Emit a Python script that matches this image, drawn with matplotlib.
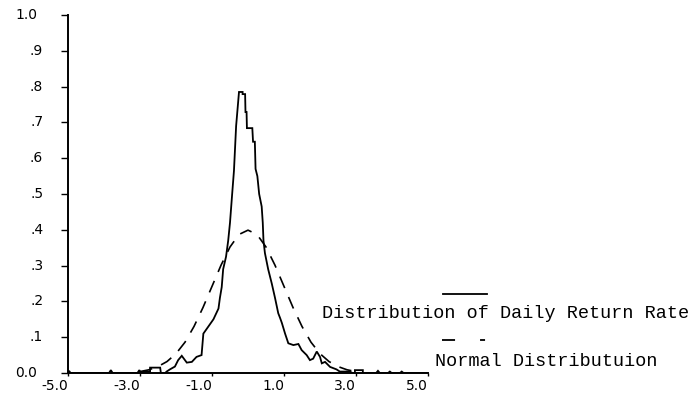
import matplotlib
matplotlib.use("Agg")
import matplotlib.pyplot as plt
from matplotlib.lines import Line2D

plt.rcParams['lines.scale_dashes'] = False

# daily return rate distribution
ret_x = [-5.00, -4.97, -4.93, -3.86, -3.81, -3.76, -3.07, -3.02, -2.97, -2.90,
         -2.72, -2.72, -2.44, -2.42, -2.30, -2.26, -2.17, -2.03, -1.94, -1.84,
         -1.70, -1.56, -1.43, -1.29, -1.24, -1.10, -0.96, -0.82, -0.78, -0.73,
         -0.69, -0.61, -0.55, -0.50, -0.44, -0.39, -0.33, -0.25, -0.15, -0.15,
         -0.08, -0.07, -0.04, -0.03, 0.12, 0.14, 0.19, 0.21, 0.26, 0.31,
         0.38, 0.41, 0.43, 0.47, 0.56, 0.66, 0.75, 0.84, 0.89, 0.94,
         1.03, 1.12, 1.26, 1.40, 1.49, 1.63, 1.72, 1.81, 1.91, 2.00,
         2.05, 2.14, 2.28, 2.46, 2.55, 2.83, 2.90, 2.97, 2.97, 3.19,
         3.19, 3.56, 3.61, 3.66, 3.89, 3.94, 3.99, 4.22, 4.27, 4.32, 5.00]
ret_y = [0.000, 0.006, 0.000, 0.000, 0.008, 0.000, 0.000, 0.008, 0.000, 0.004,
         0.004, 0.015, 0.015, 0.000, 0.000, 0.004, 0.010, 0.018, 0.036, 0.048,
         0.029, 0.031, 0.045, 0.050, 0.110, 0.130, 0.150, 0.180, 0.210, 0.240,
         0.290, 0.325, 0.370, 0.420, 0.500, 0.565, 0.690, 0.785, 0.785, 0.779,
         0.779, 0.729, 0.729, 0.684, 0.684, 0.646, 0.646, 0.570, 0.550, 0.500,
         0.465, 0.420, 0.370, 0.335, 0.290, 0.250, 0.210, 0.167, 0.154, 0.140,
         0.110, 0.083, 0.078, 0.081, 0.064, 0.050, 0.036, 0.040, 0.060, 0.045,
         0.027, 0.031, 0.017, 0.010, 0.004, 0.004, 0.000, 0.000, 0.008, 0.008,
         0.000, 0.000, 0.006, 0.000, 0.000, 0.004, 0.000, 0.000, 0.004, 0.000, 0.000]

# normal curve (dashed)
norm_x = [-3.0, -2.75, -2.5, -2.25, -2.0, -1.75, -1.5, -1.25, -1.0, -0.75, -0.5, -0.25, 0.0,
          0.25, 0.5, 0.75, 1.0, 1.25, 1.5, 1.75, 2.0, 2.25, 2.5, 2.75, 3.0]
norm_y = [0.004, 0.009, 0.018, 0.032, 0.054, 0.086, 0.130, 0.183, 0.242, 0.301, 0.352, 0.387, 0.399,
          0.387, 0.352, 0.301, 0.242, 0.183, 0.130, 0.086, 0.054, 0.032, 0.018, 0.009, 0.004]

x_ticks = [-5, -3, -1, 1, 3, 5]
x_labels = ['-5.0', '-3.0', '-1.0', '1.0', '3.0', '5.0']
y_ticks = [0.0, 0.1, 0.2, 0.3, 0.4, 0.5, 0.6, 0.7, 0.8, 0.9, 1.0]
y_labels = ['0.0', '.1', '.2', '.3', '.4', '.5', '.6', '.7', '.8', '.9', '1.0']

W, H = 693, 400
fig = plt.figure(figsize=(W / 100, H / 100), dpi=100)
ax = fig.add_axes([68 / W, 1 - 373 / H, 360 / W, 358 / H])

ax.plot(ret_x, ret_y, color='black', lw=1.3, solid_joinstyle='miter')
ax.plot(norm_x, norm_y, color='black', lw=1.2, linestyle=(0, (9.0, 7.0)))

ax.set_xlim(-5, 5)
ax.set_ylim(0, 1)
for s in ['top', 'right']:
    ax.spines[s].set_visible(False)
for s in ['left', 'bottom']:
    ax.spines[s].set_linewidth(1.4)

ax.set_xticks(x_ticks)
ax.set_xticklabels(x_labels, fontsize=10, ha='right')
ax.tick_params(axis='x', length=2, width=1, pad=2)
ax.set_yticks(y_ticks)
ax.set_yticklabels([])
ax.tick_params(axis='y', length=5, width=1)

# y labels: the one-digit ones sit a bit further right than "0.0"/"1.0"
for v, lab in zip(y_ticks, y_labels):
    off = -0.086 if lab in ('0.0', '1.0') else -0.069
    ax.text(off, v, lab, transform=ax.get_yaxis_transform(),
            ha='right', va='center', fontsize=10)

# legend: sample line above each label
fig.add_artist(Line2D([443 / W, 487 / W], [1 - 294 / H] * 2, transform=fig.transFigure,
                      color='black', lw=1.3))
fig.text(322 / W, 1 - 313 / H, 'Distribution of Daily Return Rate',
         family='Liberation Mono', fontsize=13.3, ha='left', va='center')
fig.add_artist(Line2D([442 / W, 486 / W], [1 - 340 / H] * 2, transform=fig.transFigure,
                      color='black', lw=1.3, linestyle=(0, (9.4, 18.0, 3.6, 100))))
fig.text(435 / W, 1 - 362 / H, 'Normal Distributuion',
         family='Liberation Mono', fontsize=13.3, ha='left', va='center')

fig.savefig('out.png', dpi=100)
